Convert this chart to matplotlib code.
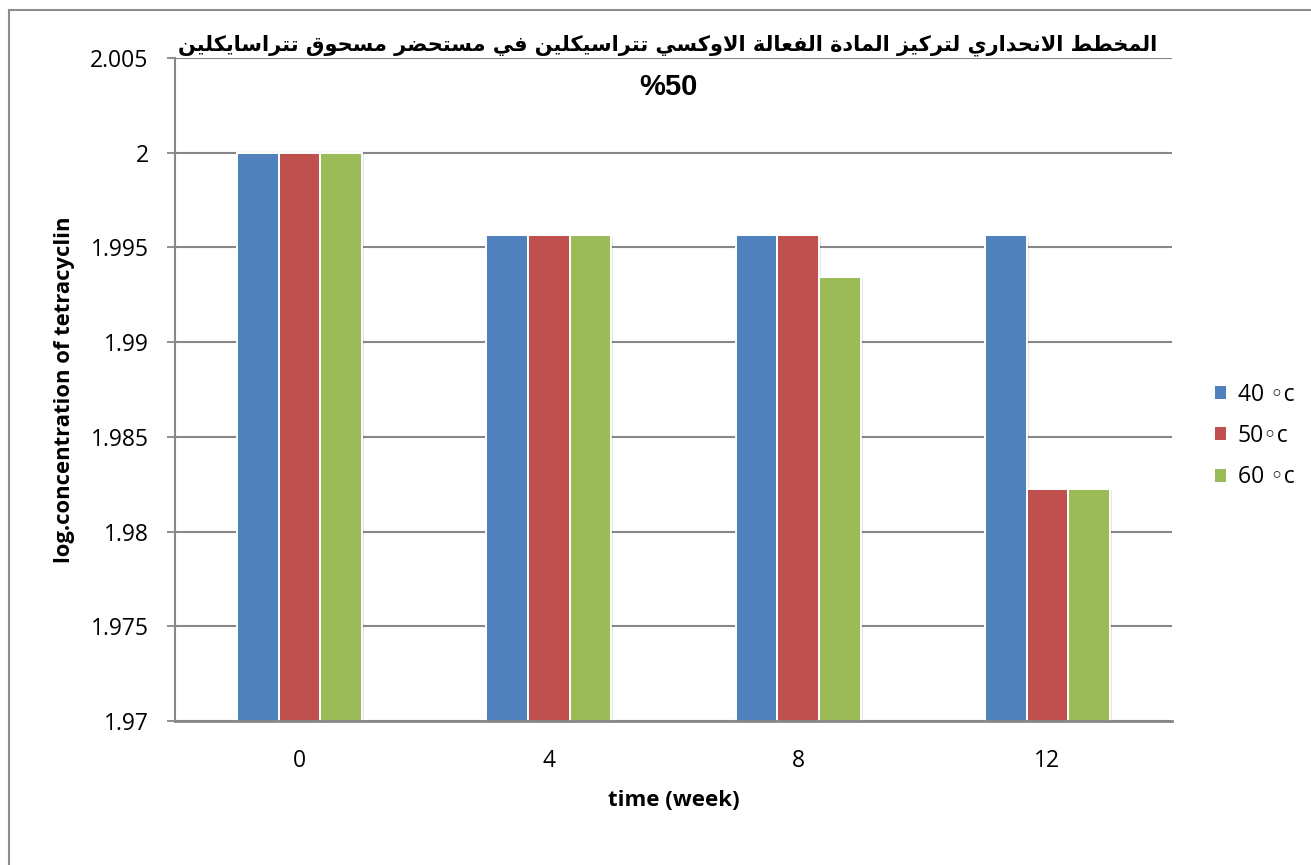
import matplotlib
matplotlib.use("Agg")
import matplotlib.pyplot as plt
import matplotlib.patheffects as pe
from matplotlib.patches import Rectangle, Patch
import numpy as np

# ---- data -------------------------------------------------------------
weeks = ["0", "4", "8", "12"]
series_names = ["40 \u25e6c", "50\u25e6c", "60 \u25e6c"]
log_conc_40 = [2.0, 1.99564, 1.99564, 1.99564]
log_conc_50 = [2.0, 1.99564, 1.99564, 1.98227]
log_conc_60 = [2.0, 1.99564, 1.99344, 1.98227]
y_ticks = [1.97, 1.975, 1.98, 1.985, 1.99, 1.995, 2.0, 2.005]
y_tick_labels = ["1.97", "1.975", "1.98", "1.985", "1.99", "1.995", "2", "2.005"]
title_line1 = "المخطط الانحداري لتركيز المادة الفعالة الاوكسي تتراسيكلين في مستحضر مسحوق تتراسايكلين"
title_line2 = "%50"
x_label = "time (week)"
y_label = "log.concentration of tetracyclin"
colors = ["#4F81BD", "#C0504D", "#9BBB59"]

# ---- minimal Arabic shaping (matplotlib draws glyphs left-to-right) ----
# (isolated, final, initial, medial)
FORMS = {
    "ا": (0xFE8D, 0xFE8E, None, None),
    "ة": (0xFE93, 0xFE94, None, None),
    "ت": (0xFE95, 0xFE96, 0xFE97, 0xFE98),
    "ح": (0xFEA1, 0xFEA2, 0xFEA3, 0xFEA4),
    "خ": (0xFEA5, 0xFEA6, 0xFEA7, 0xFEA8),
    "د": (0xFEA9, 0xFEAA, None, None),
    "ر": (0xFEAD, 0xFEAE, None, None),
    "ز": (0xFEAF, 0xFEB0, None, None),
    "س": (0xFEB1, 0xFEB2, 0xFEB3, 0xFEB4),
    "ض": (0xFEBD, 0xFEBE, 0xFEBF, 0xFEC0),
    "ط": (0xFEC1, 0xFEC2, 0xFEC3, 0xFEC4),
    "ع": (0xFEC9, 0xFECA, 0xFECB, 0xFECC),
    "ف": (0xFED1, 0xFED2, 0xFED3, 0xFED4),
    "ق": (0xFED5, 0xFED6, 0xFED7, 0xFED8),
    "ك": (0xFED9, 0xFEDA, 0xFEDB, 0xFEDC),
    "ل": (0xFEDD, 0xFEDE, 0xFEDF, 0xFEE0),
    "م": (0xFEE1, 0xFEE2, 0xFEE3, 0xFEE4),
    "ن": (0xFEE5, 0xFEE6, 0xFEE7, 0xFEE8),
    "و": (0xFEED, 0xFEEE, None, None),
    "ي": (0xFEF1, 0xFEF2, 0xFEF3, 0xFEF4),
    "LA": (0xFEFB, 0xFEFC, None, None),
}


def shape_word(word):
    tokens = []
    i = 0
    while i < len(word):
        if word[i] == "ل" and i + 1 < len(word) and word[i + 1] == "ا":
            tokens.append("LA")
            i += 2
        else:
            tokens.append(word[i])
            i += 1
    out = []
    for k, t in enumerate(tokens):
        if t not in FORMS:
            out.append(t)
            continue
        iso, fin, ini, med = FORMS[t]
        prev_join = k > 0 and tokens[k - 1] in FORMS and FORMS[tokens[k - 1]][2] is not None
        next_join = ini is not None and k + 1 < len(tokens) and tokens[k + 1] in FORMS
        if prev_join and next_join:
            cp = med
        elif prev_join:
            cp = fin
        elif next_join:
            cp = ini
        else:
            cp = iso
        out.append(chr(cp))
    return "".join(out)


def shape_rtl(text):
    shaped = " ".join(shape_word(w) for w in text.split(" "))
    return shaped[::-1]


# ---- figure -----------------------------------------------------------
W, H = 1311, 865
fig = plt.figure(figsize=(W / 100, H / 100), dpi=100)
fig.patch.set_facecolor("white")

# chart frame
fig.add_artist(Rectangle((9 / W, -0.05), 1.2, 1 - 10 / H + 0.05,
                         transform=fig.transFigure, fill=False,
                         edgecolor="#8c8c8c", linewidth=1.5))

ax_l, ax_r, ax_t, ax_b = 175, 1172, 58, 721
ax = fig.add_axes([ax_l / W, 1 - ax_b / H, (ax_r - ax_l) / W, (ax_b - ax_t) / H])

x = np.arange(len(weeks))
bw = 0.167
series = [log_conc_40, log_conc_50, log_conc_60]
shadow = [pe.SimplePatchShadow(offset=(1.5, -1.0), shadow_rgbFace="#000000", alpha=0.10),
          pe.Normal()]
handles = []
for j, (vals, name, col) in enumerate(zip(series, series_names, colors)):
    bars = ax.bar(x + (j - 1) * bw, vals, width=bw, bottom=0, color=col,
                  edgecolor="white", linewidth=1.4, label=name, zorder=3)
    for b in bars:
        b.set_path_effects(shadow)
    handles.append(Patch(facecolor=col, edgecolor="none", label=name))

ax.set_xlim(-0.5, 3.5)
ax.set_ylim(1.97, 2.005)
ax.set_yticks(y_ticks)
ax.set_yticklabels(y_tick_labels)
ax.set_xticks(x)
ax.set_xticklabels(weeks)

grid_col = "#878787"
ax.yaxis.grid(True, color=grid_col, linewidth=1.5, zorder=0)
ax.set_axisbelow(True)
for s in ["top", "right"]:
    ax.spines[s].set_visible(False)
ax.spines["left"].set_color(grid_col)
ax.spines["left"].set_linewidth(1.5)
ax.spines["bottom"].set_color(grid_col)
ax.spines["bottom"].set_linewidth(2.0)
ax.spines["bottom"].set_zorder(4)

tick_font = ["Open Sans", "DejaVu Sans"]
ax.tick_params(axis="y", length=6, width=1.3, color=grid_col, pad=13,
               labelsize=16.5, labelcolor="black")
ax.tick_params(axis="x", length=0, pad=20, labelsize=16.5, labelcolor="black")
for lab in ax.get_yticklabels() + ax.get_xticklabels():
    lab.set_family(tick_font)

ax.set_xlabel(x_label, fontsize=16, fontweight="bold", family=["Open Sans", "DejaVu Sans"])
ax.xaxis.set_label_coords(0.5, -(800 - ax_b) / (ax_b - ax_t))
ax.xaxis.label.set_va("center")
ax.set_ylabel(y_label, fontsize=15.8, fontweight="bold", family=["Open Sans", "DejaVu Sans"])
ax.yaxis.set_label_coords(-(ax_l - 65) / (ax_r - ax_l), 0.5)
ax.yaxis.label.set_va("center")

leg = ax.legend(handles=handles, loc="center left",
                bbox_to_anchor=((1215 - ax_l) / (ax_r - ax_l), 1 - (436 - ax_t) / (ax_b - ax_t)),
                frameon=False, handlelength=0.5, handleheight=0.5,
                handletextpad=0.5, labelspacing=0.75, borderaxespad=0, borderpad=0,
                prop={"family": ["Open Sans", "DejaVu Sans"], "size": 16.5})

# title
fig.text(668 / W, 1 - 45 / H, shape_rtl(title_line1), ha="center", va="center",
         fontsize=15, fontweight="bold", family=["DejaVu Sans"])
fig.text(668 / W, 1 - 87 / H, title_line2, ha="center", va="center",
         fontsize=21, fontweight="bold", family=["Liberation Sans", "DejaVu Sans"])

fig.savefig("out.png", dpi=100, facecolor="white")
